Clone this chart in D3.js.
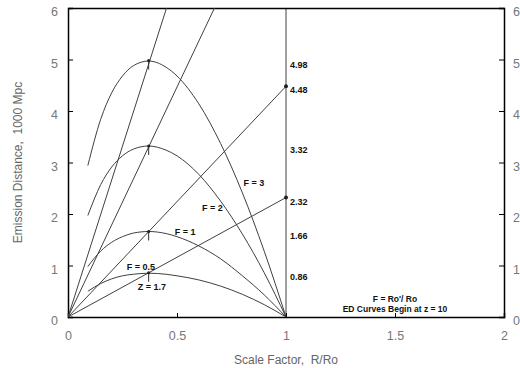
<!DOCTYPE html>
<html>
<head>
<meta charset="utf-8">
<script src="https://cdn.jsdelivr.net/npm/d3@7"></script>
<style>
  body { margin: 0; background: #fff; }
  svg { display: block; }
</style>
</head>
<body>
<script>
// scale factor R/Ro where the ED curves are sampled (start at z = 10)
const scaleFactor = [0.091, 0.15, 0.2, 0.25, 0.3, 0.37, 0.45, 0.5, 0.6, 0.7, 0.8, 0.9, 1.0];

// emission distance, 1000 Mpc
const edF3 = [2.94, 3.84, 4.35, 4.68, 4.88, 4.97, 4.85, 4.68, 4.14, 3.37, 2.41, 1.28, 0];
const edF2 = [1.97, 2.57, 2.91, 3.13, 3.26, 3.32, 3.24, 3.13, 2.77, 2.25, 1.61, 0.86, 0];
const edF1 = [0.98, 1.28, 1.45, 1.56, 1.63, 1.66, 1.62, 1.56, 1.38, 1.13, 0.80, 0.43, 0];
const edF05 = [0.50, 0.65, 0.74, 0.80, 0.83, 0.85, 0.83, 0.80, 0.72, 0.60, 0.44, 0.24, 0];

// peaks at z = 1.7
const peakScale = 0.37;
const peakValues = [4.98, 3.32, 1.66, 0.86];

// straight rays from the origin: end points
const rayEndX = [0.452, 0.672, 1, 1];
const rayEndY = [6, 6, 4.48, 2.32];

// labels at R/Ro = 1
const sideLabels = ["4.98", "4.48", "3.32", "2.32", "1.66", "0.86"];

const xTicks = [0, 0.5, 1, 1.5, 2];
const yTicks = [0, 1, 2, 3, 4, 5, 6];

const width = 520;
const height = 368;
const marginTop = 8;
const marginRight = 16;
const marginBottom = 51;
const marginLeft = 68;
const w = width - marginLeft - marginRight;
const h = height - marginTop - marginBottom;

const svg = d3.select("body").append("svg")
  .attr("width", width)
  .attr("height", height);

svg.append("rect").attr("width", "100%").attr("height", "100%").attr("fill", "white");

const g = svg.append("g")
  .attr("transform", "translate(" + marginLeft + "," + marginTop + ")");

const x = d3.scaleLinear().domain([0, 2]).range([0, w]);
const y = d3.scaleLinear().domain([0, 6]).range([h, 0]);

const tickFont = "Liberation Sans, Arial, sans-serif";
const labelFont = "Liberation Sans Narrow, Liberation Sans, Arial, sans-serif";

// vertical gray line at R/Ro = 1
g.append("line")
  .attr("x1", x(1)).attr("x2", x(1))
  .attr("y1", y(0)).attr("y2", y(6))
  .attr("stroke", "#a0a0a0")
  .attr("stroke-width", 2);

// axes with inward ticks
const axisL = g.append("g").call(d3.axisLeft(y).tickValues(yTicks).tickSize(-5).tickPadding(10).tickFormat(d3.format("d")));
const axisR = g.append("g").attr("transform", "translate(" + w + ",0)")
  .call(d3.axisRight(y).tickValues(yTicks).tickSize(-5).tickPadding(9).tickFormat(d3.format("d")));
const axisB = g.append("g").attr("transform", "translate(0," + h + ")")
  .call(d3.axisBottom(x).tickValues(xTicks).tickSize(-4).tickPadding(14).tickFormat(d => d));
const axisT = g.append("g").call(d3.axisTop(x).tickValues([]).tickSizeOuter(0));

[axisL, axisR, axisB, axisT].forEach(a => {
  a.select(".domain").attr("stroke", "#000").attr("stroke-width", 1.5);
  a.selectAll(".tick line").attr("stroke", "#000");
  a.selectAll(".tick text")
    .attr("fill", "#777")
    .attr("font-family", tickFont)
    .attr("font-size", 12.5);
});
axisL.selectAll(".tick text").attr("dy", "0.62em");
axisR.selectAll(".tick text").attr("dy", "0.62em");
axisL.selectAll(".tick").filter(d => d === 0 || d === 6).select("line").remove();
axisR.selectAll(".tick").filter(d => d === 0 || d === 6).select("line").remove();
axisB.selectAll(".tick").filter(d => d === 0 || d === 2).select("line").remove();

// axis titles
svg.append("text")
  .attr("transform", "rotate(-90)")
  .attr("x", -(marginTop + h / 2))
  .attr("y", 22)
  .attr("text-anchor", "middle")
  .attr("fill", "#666")
  .attr("font-family", tickFont)
  .attr("font-size", 12)
  .style("white-space", "pre")
  .text("Emission Distance,  1000 Mpc");

svg.append("text")
  .attr("x", marginLeft + x(1))
  .attr("y", 364)
  .attr("text-anchor", "middle")
  .attr("fill", "#666")
  .attr("font-family", tickFont)
  .attr("font-size", 12)
  .style("white-space", "pre")
  .text("Scale Factor,  R/Ro");

// clip to the plot frame
svg.append("defs").append("clipPath").attr("id", "clip")
  .append("rect").attr("width", w).attr("height", h);

const plot = g.append("g").attr("clip-path", "url(#clip)");

// rays from the origin
plot.selectAll("line.ray")
  .data(d3.range(rayEndX.length))
  .join("line")
  .attr("class", "ray")
  .attr("x1", x(0)).attr("y1", y(0))
  .attr("x2", i => x(rayEndX[i]))
  .attr("y2", i => y(rayEndY[i]))
  .attr("stroke", "#404040")
  .attr("stroke-width", 1);

// ED curves
const curves = [edF3, edF2, edF1, edF05];
const line = d3.line()
  .x(d => x(d[0]))
  .y(d => y(d[1]))
  .curve(d3.curveMonotoneX);

plot.selectAll("path.ed")
  .data(curves)
  .join("path")
  .attr("class", "ed")
  .attr("fill", "none")
  .attr("stroke", "#404040")
  .attr("stroke-width", 1)
  .attr("d", c => line(scaleFactor.map((s, i) => [s, c[i]])));

// peak markers
peakValues.forEach(v => {
  g.append("line")
    .attr("x1", x(peakScale)).attr("x2", x(peakScale))
    .attr("y1", y(v)).attr("y2", y(v) + 9)
    .attr("stroke", "#303030");
  g.append("circle")
    .attr("cx", x(peakScale)).attr("cy", y(v))
    .attr("r", 1.5).attr("fill", "#202020");
});

// ray end dots on R/Ro = 1
[2, 3].forEach(i => {
  g.append("circle")
    .attr("cx", x(rayEndX[i])).attr("cy", y(rayEndY[i]))
    .attr("r", 2).attr("fill", "#202020");
});

function label(txt, px, py, anchor, size) {
  g.append("text")
    .attr("x", px)
    .attr("y", py)
    .attr("text-anchor", anchor || "start")
    .attr("fill", "#111")
    .attr("font-family", labelFont)
    .attr("font-weight", "bold")
    .attr("font-size", size || 9)
    .text(txt);
}

sideLabels.forEach(t => {
  label(t, x(1) + 4, y(+t) + 7);
});

label("F = 3", x(0.8) + 1, y(2.55));
label("F = 2", x(0.61) + 1, y(2.05));
label("F = 1", x(0.49), y(1.6));
label("F = 0.5", x(0.27), y(0.92));
label("Z = 1.7", x(0.32), y(0.52));
label("F = Ro'/ Ro", x(1.5), y(0.3), "middle", 8.5);
label("ED Curves Begin at z = 10", x(1.5), y(0.09), "middle", 8.5);
</script>
</body>
</html>
